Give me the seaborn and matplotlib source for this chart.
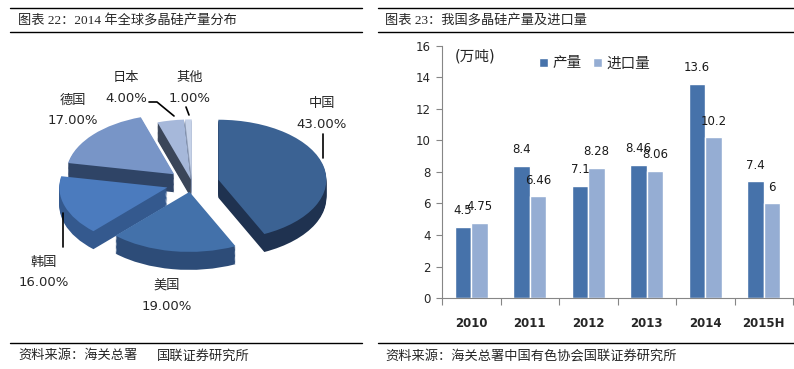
import numpy as np
import pandas as pd
import matplotlib
matplotlib.use('Agg')
import matplotlib.pyplot as plt
import seaborn as sns

# left panel: 2014 global polysilicon output share (%)
regions = ['中国', '美国', '韩国', '德国', '日本', '其他']
shares = [43, 19, 16, 17, 4, 1]
share_labels = ['43.00%', '19.00%', '16.00%', '17.00%', '4.00%', '1.00%']

# right panel: China polysilicon output and imports (万吨)
years = ['2010', '2011', '2012', '2013', '2014', '2015H']
output = [4.5, 8.4, 7.1, 8.46, 13.6, 7.4]
imports = [4.75, 6.46, 8.28, 8.06, 10.2, 6]
series_names = ['产量', '进口量']

sns.set_theme(style='white')
plt.rcParams['font.family'] = ['DejaVu Sans', 'Noto Sans CJK SC']
serif_cjk = ['Liberation Serif', 'Noto Sans CJK SC']

W, H = 794, 369
fig = plt.figure(figsize=(W / 100, H / 100), dpi=100)


def px_axes(x0, y0, x1, y1):
    return fig.add_axes([x0 / W, 1 - y1 / H, (x1 - x0) / W, (y1 - y0) / H])


# ---- 3D-looking exploded pie ----
top_colors = ['#3B6293', '#4371AA', '#4B7BBE', '#7895C7', '#A6B8DA', '#C6D2E8']
side_colors = ['#1F3250', '#2D4C78', '#34598E', '#2F4466', '#3B4659', '#8C9AB4']
explode = [0.25, 0.15, 0.24, 0.22, 0.06, 0.06]

ax1 = px_axes(10, 40, 370, 330)
cx, cy, rx, ry = 192, 183, 108, 60
n_layers, step = 15, 0.02
for k in range(n_layers, 0, -1):
    ax1.pie(shares, explode=explode, colors=side_colors, startangle=90,
            counterclock=False, center=(0, -k * step),
            wedgeprops=dict(linewidth=0))
ax1.pie(shares, explode=explode, colors=top_colors, startangle=90,
        counterclock=False, wedgeprops=dict(linewidth=0))
ax1.set_aspect('auto')
ax1.set_xlim((10 - cx) / rx, (370 - cx) / rx)
ax1.set_ylim((cy - 330) / ry, (cy - 40) / ry)
ax1.axis('off')

# ---- grouped bars ----
dark, light = '#4672AA', '#95ADD3'
df = pd.DataFrame({
    'year': years * 2,
    'value': output + imports,
    'series': [series_names[0]] * len(years) + [series_names[1]] * len(years),
})
ax2 = px_axes(442, 46, 793, 298)
sns.barplot(data=df, x='year', y='value', hue='series', palette=[dark, light],
            width=0.57, saturation=1, ax=ax2)
ax2.set_ylim(0, 16)
ax2.set_xlim(-0.5, len(years) - 0.5)
ax2.set_yticks(np.arange(0, 17, 2))
ax2.set_xlabel('')
ax2.set_ylabel('')
for c in ax2.containers:
    ax2.bar_label(c, fmt='%g', padding=7, fontsize=8.5, color='#1a1a1a')

gray = '#868686'
for s in ['top', 'right']:
    ax2.spines[s].set_visible(False)
for s in ['left', 'bottom']:
    ax2.spines[s].set_color(gray)
    ax2.spines[s].set_linewidth(0.8)
ax2.set_xticks(np.arange(-0.5, len(years), 1), minor=True)
ax2.tick_params(axis='x', which='major', length=0, pad=14, labelsize=8.5)
ax2.tick_params(axis='x', which='minor', bottom=True, length=5, width=0.8,
                color=gray, direction='out')
ax2.tick_params(axis='y', left=True, length=4, width=0.8, color=gray,
                direction='out', labelsize=8.5, pad=4)
for t in ax2.get_xticklabels():
    t.set_fontweight('bold')
ax2.legend(loc='upper left', bbox_to_anchor=(0.24, 1.015), ncol=2,
           frameon=False, handlelength=0.6, handleheight=0.6,
           handletextpad=0.3, columnspacing=0.8, fontsize=10.5)

# ---- overlay: headers, footers, pie labels ----
ov = fig.add_axes([0, 0, 1, 1])
ov.set_xlim(0, W)
ov.set_ylim(H, 0)
ov.axis('off')

for x0, x1 in [(10, 362), (378, 794)]:
    for y in (8, 32, 343):
        ov.plot([x0, x1], [y, y], color='black', lw=1.0)

ov.text(18, 20, '图表 22：2014 年全球多晶硅产量分布', fontsize=9.5,
        va='center', family=serif_cjk)
ov.text(385, 20, '图表 23：我国多晶硅产量及进口量', fontsize=9.5,
        va='center', family=serif_cjk)
ov.text(18, 356, '资料来源：海关总署', fontsize=9.5,
        va='center', family=serif_cjk)
ov.text(157, 356, '国联证券研究所', fontsize=9.5,
        va='center', family=serif_cjk)
ov.text(385, 356, '资料来源：海关总署中国有色协会国联证券研究所', fontsize=9.5,
        va='center', family=serif_cjk)

label_pos = [(322, 103, 125), (167, 285, 307), (44, 262, 283),
             (73, 100, 120), (126, 77, 99), (190, 77, 99)]
for name, pct, (x, y1, y2) in zip(regions, share_labels, label_pos):
    ov.text(x, y1, name, fontsize=9.5, ha='center', va='center', color='#262626')
    ov.text(x, y2, pct, fontsize=9.5, ha='center', va='center', color='#262626')

ov.text(455, 56, '(万吨)', fontsize=10.5, va='center', color='#262626')

leaders = [([323, 323], [134, 158]), ([63, 63], [213, 247]),
           ([149, 157, 174], [102, 102, 116]), ([186, 189], [107, 115])]
for xs, ys in leaders:
    ov.plot(xs, ys, color='black', lw=1.2)

fig.savefig('out.png', dpi=100)
